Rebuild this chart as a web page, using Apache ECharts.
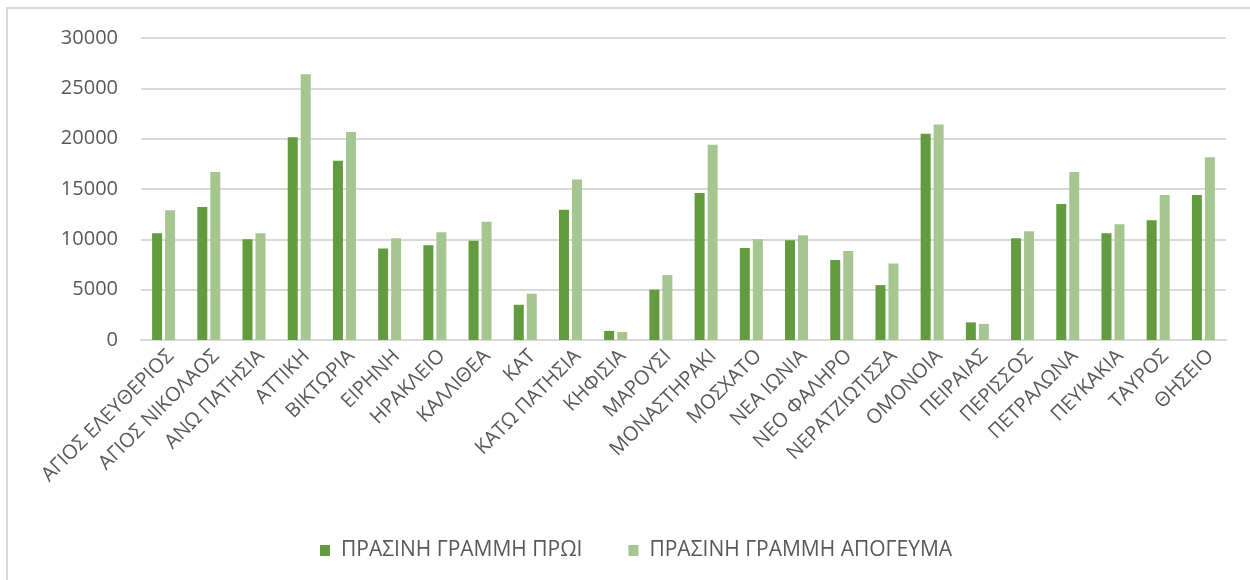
<!DOCTYPE html>
<html>
<head>
<meta charset="utf-8">
<script src="https://cdn.jsdelivr.net/npm/echarts@6/dist/echarts.min.js"></script>
<style>
  html, body { margin: 0; padding: 0; background: #fff; }
  #chart { width: 1250px; height: 580px; }
</style>
</head>
<body>
<div id="chart"></div>
<script>
const stations = [
  'ΑΓΙΟΣ ΕΛΕΥΘΕΡΙΟΣ', 'ΑΓΙΟΣ ΝΙΚΟΛΑΟΣ', 'ΑΝΩ ΠΑΤΗΣΙΑ', 'ΑΤΤΙΚΗ', 'ΒΙΚΤΩΡΙΑ',
  'ΕΙΡΗΝΗ', 'ΗΡΑΚΛΕΙΟ', 'ΚΑΛΛΙΘΕΑ', 'ΚΑΤ', 'ΚΑΤΩ ΠΑΤΗΣΙΑ', 'ΚΗΦΙΣΙΑ', 'ΜΑΡΟΥΣΙ',
  'ΜΟΝΑΣΤΗΡΑΚΙ', 'ΜΟΣΧΑΤΟ', 'ΝΕΑ ΙΩΝΙΑ', 'ΝΕΟ ΦΑΛΗΡΟ', 'ΝΕΡΑΤΖΙΩΤΙΣΣΑ', 'ΟΜΟΝΟΙΑ',
  'ΠΕΙΡΑΙΑΣ', 'ΠΕΡΙΣΣΟΣ', 'ΠΕΤΡΑΛΩΝΑ', 'ΠΕΥΚΑΚΙΑ', 'ΤΑΥΡΟΣ', 'ΘΗΣΕΙΟ'
]
const morning = [
  10600, 13200, 10000, 20150, 17800, 9100, 9400, 9850, 3500, 12950, 900, 5000,
  14600, 9150, 9900, 7950, 5450, 20500, 1750, 10100, 13500, 10600, 11900, 14400
]
const afternoon = [
  12900, 16700, 10600, 26400, 20650, 10100, 10700, 11750, 4600, 15950, 800, 6450,
  19400, 10000, 10400, 8850, 7600, 21400, 1600, 10800, 16700, 11500, 14400, 18150
]
const seriesNames = ['ΠΡΑΣΙΝΗ ΓΡΑΜΜΗ ΠΡΩΙ', 'ΠΡΑΣΙΝΗ ΓΡΑΜΜΗ ΑΠΟΓΕΥΜΑ']
const yMin = 0
const yMax = 30000
const yStep = 5000

const myChart = echarts.init(document.getElementById('chart'))
const font = '"Open Sans", "DejaVu Sans", sans-serif'
const option = {
  animation: false,
  textStyle: { fontFamily: font },
  graphic: [
    {
      type: 'rect',
      silent: true,
      shape: { x: 7, y: 8, width: 1400, height: 700 },
      style: { fill: null, stroke: '#d9d9d9', lineWidth: 2 }
    }
  ],
  grid: {
    top: 38,
    left: 141,
    right: 24,
    bottom: 240,
    containLabel: false
  },
  legend: {
    left: 315,
    top: 535,
    icon: 'rect',
    itemWidth: 10,
    itemHeight: 11,
    itemGap: 46,
    textStyle: {
      color: '#595959',
      fontSize: 21,
      fontFamily: font,
      padding: [0, 0, 0, 6]
    },
    data: seriesNames
  },
  xAxis: {
    type: 'category',
    data: stations,
    axisTick: { show: false },
    axisLine: { lineStyle: { color: '#d9d9d9', width: 2 } },
    axisLabel: {
      interval: 0,
      rotate: 45,
      margin: 6,
      verticalAlign: 'top',
      color: '#595959',
      fontSize: 20,
      fontFamily: font
    }
  },
  yAxis: {
    type: 'value',
    min: yMin,
    max: yMax,
    interval: yStep,
    axisLine: { show: false },
    axisTick: { show: false },
    axisLabel: {
      margin: 23,
      color: '#595959',
      fontSize: 20,
      fontFamily: font,
      formatter: function(v) {
        return String(v)
      }
    },
    splitLine: { lineStyle: { color: '#d9d9d9', width: 2 } }
  },
  series: [
    {
      name: seriesNames[0],
      type: 'bar',
      barWidth: 10,
      barGap: '30%',
      itemStyle: { color: '#639b3f' },
      data: morning
    },
    {
      name: seriesNames[1],
      type: 'bar',
      barWidth: 10,
      itemStyle: { color: '#a5c690' },
      data: afternoon
    }
  ]
}
myChart.setOption(option)
</script>
</body>
</html>
